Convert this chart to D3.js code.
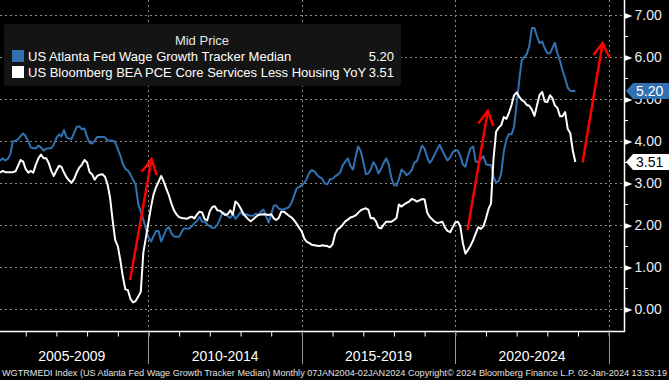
<!DOCTYPE html>
<html>
<head>
<meta charset="utf-8">
<script src="https://cdn.jsdelivr.net/npm/d3@7"></script>
<style>
  html, body { margin: 0; padding: 0; background: #000; }
  svg { display: block; font-family: "Liberation Sans", Arial, sans-serif; }
</style>
</head>
<body>
<div id="chart"></div>
<script>
// monthly data, first point = March 2005
var startYear = 2005, startMonth = 2;

var wageGrowth = [
  3.54, 3.60, 3.55, 3.58, 3.70, 4.00, 4.02, 4.05, 4.13, 4.19, 4.12, 4.00,
  3.86, 3.84, 3.84, 3.90, 3.86, 3.78, 3.83, 3.84, 3.84, 3.93, 4.08, 4.17,
  4.12, 4.27, 4.10, 4.07, 4.06, 4.21, 4.35, 4.36, 4.29, 4.31, 4.11, 3.97,
  3.95, 4.02, 4.11, 4.11, 4.11, 4.10, 4.03, 4.02, 4.02, 3.98, 3.82, 3.66,
  3.47, 3.35, 3.31, 3.21, 3.09, 2.97, 2.51, 2.33, 2.14, 1.92, 1.71, 1.62,
  1.74, 1.87, 1.87, 1.62, 1.76, 1.91, 1.96, 1.81, 1.74, 1.73, 1.73, 1.85,
  1.93, 1.93, 1.93, 1.98, 2.05, 2.11, 2.21, 2.09, 2.09, 2.03, 1.98, 1.94,
  1.95, 2.02, 2.15, 2.31, 2.28, 2.22, 2.18, 2.28, 2.16, 2.23, 2.32, 2.25,
  2.27, 2.25, 2.23, 2.23, 2.28, 2.26, 2.33, 2.38, 2.22, 2.07, 2.27, 2.47,
  2.48, 2.40, 2.38, 2.39, 2.41, 2.44, 2.55, 2.71, 2.89, 2.92, 2.96, 3.02,
  3.12, 3.26, 3.32, 3.29, 3.20, 3.15, 3.11, 3.00, 2.98, 3.10, 3.11, 3.17,
  3.21, 3.26, 3.43, 3.52, 3.60, 3.42, 3.33, 3.63, 3.88, 3.78, 3.52, 3.22,
  3.24, 3.34, 3.51, 3.41, 3.24, 3.35, 3.49, 3.60, 3.45, 3.14, 2.96, 2.95,
  3.10, 3.33, 3.28, 3.20, 3.24, 3.32, 3.50, 3.53, 3.72, 3.90, 3.83, 3.62,
  3.49, 3.57, 3.69, 3.82, 3.92, 3.78, 3.66, 3.55, 3.62, 3.74, 3.80, 3.78,
  3.66, 3.45, 3.40, 3.65, 3.84, 3.88, 3.52, 3.52, 3.58, 3.65, 3.46, 3.44,
  3.44, 3.16, 3.02, 3.06, 3.24, 3.76, 4.05, 4.18, 4.17, 4.35, 4.90, 5.46,
  5.92, 6.01, 6.08, 6.28, 6.70, 6.70, 6.50, 6.34, 6.38, 6.22, 6.10, 6.10,
  6.22, 6.35, 6.10, 5.92, 5.69, 5.50, 5.28, 5.21, 5.20, 5.20
];

var pceServices = [
  3.26, 3.30, 3.27, 3.27, 3.27, 3.27, 3.29, 3.42, 3.56, 3.52, 3.34, 3.26,
  3.30, 3.26, 3.45, 3.60, 3.69, 3.60, 3.60, 3.49, 3.30, 3.18, 3.31, 3.42,
  3.40, 3.26, 3.15, 3.07, 3.02, 3.11, 3.27, 3.38, 3.45, 3.56, 3.50, 3.27,
  3.22, 3.09, 3.18, 3.21, 3.22, 3.16, 2.98, 2.66, 2.11, 1.65, 1.51, 1.16,
  0.79, 0.48, 0.46, 0.25, 0.17, 0.20, 0.31, 0.42, 1.36, 1.71, 2.08, 2.45,
  2.73, 2.91, 3.04, 3.18, 3.05, 2.88, 2.72, 2.52, 2.36, 2.26, 2.20, 2.18,
  2.17, 2.16, 2.19, 2.21, 2.17, 2.26, 2.33, 2.31, 2.15, 2.12, 2.34, 2.44,
  2.46, 2.36, 2.35, 2.30, 2.25, 2.27, 2.36, 2.26, 2.57, 2.52, 2.41, 2.29,
  2.22, 2.15, 2.10, 2.15, 2.20, 2.25, 2.26, 2.27, 2.26, 2.25, 2.27, 2.17,
  2.13, 2.18, 2.33, 2.33, 2.28, 2.23, 2.19, 2.12, 2.04, 1.94, 1.85, 1.68,
  1.61, 1.58, 1.54, 1.53, 1.52, 1.51, 1.53, 1.52, 1.51, 1.48, 1.55, 1.80,
  1.91, 1.95, 2.02, 2.10, 2.14, 2.19, 2.21, 2.24, 2.30, 2.36, 2.39, 2.41,
  2.38, 2.17, 2.18, 2.10, 1.95, 1.93, 2.02, 2.09, 2.09, 2.09, 2.13, 2.18,
  2.50, 2.45, 2.50, 2.54, 2.57, 2.63, 2.61, 2.57, 2.60, 2.63, 2.62, 2.31,
  2.21, 2.15, 2.09, 2.06, 2.07, 2.09, 1.95, 1.87, 1.84, 1.95, 2.07, 2.09,
  1.98, 1.58, 1.33, 1.42, 1.52, 1.65, 1.81, 1.96, 1.92, 1.98, 2.17, 2.40,
  2.52, 3.60, 4.23, 4.33, 4.39, 4.58, 4.54, 4.68, 4.87, 5.10, 5.17, 5.06,
  4.99, 4.95, 4.87, 4.85, 4.76, 4.61, 4.87, 5.11, 5.18, 4.95, 4.94, 5.10,
  5.04, 4.86, 4.80, 4.60, 4.60, 4.70, 4.30, 4.20, 3.78, 3.51
];

var seriesNames = [
  "US Atlanta Fed Wage Growth Tracker Median",
  "US Bloomberg BEA PCE Core Services Less Housing YoY"
];
var lastValues = ["5.20", "3.51"];
var seriesColors = ["#3171b1", "#ffffff"];

var yTicks = [0, 1, 2, 3, 4, 5, 6, 7];
var yMinorTicks = [0.5, 1.5, 2.5, 3.5, 4.5, 5.5, 6.5];
var periodStarts = [2005, 2010, 2015, 2020, 2025];
var periodLabels = ["2005-2009", "2010-2014", "2015-2019", "2020-2024"];

// red annotation arrows, [decimal year, value]
var arrows = [
  { from: [2009.40, 0.70], tip: [2010.10, 3.58], wingA: [2009.78, 3.28], wingB: [2010.27, 3.20] },
  { from: [2020.40, 1.89], tip: [2021.06, 4.73], wingA: [2020.75, 4.43], wingB: [2021.24, 4.37] },
  { from: [2024.15, 3.50], tip: [2024.80, 6.34], wingA: [2024.50, 6.06], wingB: [2025.02, 6.00] }
];

var footerText = "WGTRMEDI Index (US Atlanta Fed Wage Growth Tracker Median)  Monthly 07JAN2004-02JAN2024  Copyright\u00a9 2024 Bloomberg Finance L.P.  02-Jan-2024 13:53:19";

// --- layout
var W = 669, H = 380;
var plotW = 624, plotH = 331;

function yearToDate(t) {
  var y = Math.floor(t);
  var start = new Date(y, 0, 1), end = new Date(y + 1, 0, 1);
  return new Date(start.getTime() + (t - y) * (end - start));
}

var dates = wageGrowth.map(function (d, i) { return new Date(startYear, startMonth + i, 1); });

var svg = d3.select("#chart").append("svg")
  .attr("width", W)
  .attr("height", H);

svg.append("rect").attr("width", W).attr("height", H).attr("fill", "#000");

var x = d3.scaleTime()
  .domain([yearToDate(2005.16), yearToDate(2025.498)])
  .range([0, plotW]);

var y = d3.scaleLinear()
  .domain([-0.512, 7.369])
  .range([plotH, 0]);

// gridlines
var grid = svg.append("g").attr("stroke", "#8a8a8a").attr("stroke-width", 1).attr("stroke-dasharray", "2,3");
grid.selectAll(".hg").data(yTicks).enter().append("line")
  .attr("x1", 0).attr("x2", plotW)
  .attr("y1", function (d) { return Math.round(y(d)) + 0.5; })
  .attr("y2", function (d) { return Math.round(y(d)) + 0.5; });
grid.selectAll(".vg").data(periodStarts.slice(1)).enter().append("line")
  .attr("y1", 0).attr("y2", plotH)
  .attr("x1", function (d) { return Math.round(x(new Date(d, 0, 1))) + 0.5; })
  .attr("x2", function (d) { return Math.round(x(new Date(d, 0, 1))) + 0.5; });

// legend box
var legend = svg.append("g");
legend.append("rect")
  .attr("x", 4).attr("y", 24).attr("width", 397).attr("height", 62)
  .attr("rx", 3).attr("fill", "#141414");
legend.append("text")
  .attr("x", 202).attr("y", 45)
  .attr("text-anchor", "middle")
  .attr("fill", "#e6e6e6")
  .style("font-size", "13px")
  .text("Mid Price");
seriesNames.forEach(function (name, i) {
  var ly = 56 + i * 16;
  legend.append("rect")
    .attr("x", 12).attr("y", ly - 6).attr("width", 12).attr("height", 12)
    .attr("fill", seriesColors[i]);
  legend.append("text")
    .attr("x", 28).attr("y", ly + 5)
    .attr("fill", "#ffffff")
    .style("font-size", "13px")
    .text(name);
  legend.append("text")
    .attr("x", 394).attr("y", ly + 5)
    .attr("text-anchor", "end")
    .attr("fill", "#ffffff")
    .style("font-size", "13px")
    .text(lastValues[i]);
});

// lines
var clip = svg.append("clipPath").attr("id", "plotclip")
  .append("rect").attr("width", plotW).attr("height", plotH);

var line = d3.line()
  .x(function (d) { return x(d[0]); })
  .y(function (d) { return y(d[1]); });

var plot = svg.append("g").attr("clip-path", "url(#plotclip)");
[wageGrowth, pceServices].forEach(function (series, i) {
  plot.append("path")
    .datum(series.map(function (v, j) { return [dates[j], v]; }))
    .attr("fill", "none")
    .attr("stroke", seriesColors[i])
    .attr("stroke-width", 2)
    .attr("stroke-linejoin", "round")
    .attr("d", line);
});

// red arrows
arrows.forEach(function (a) {
  var p = function (q) { return [x(yearToDate(q[0])), y(q[1])]; };
  plot.append("path")
    .datum([p(a.from), p(a.tip)])
    .attr("d", d3.line())
    .attr("stroke", "#ff0000").attr("stroke-width", 2.5).attr("fill", "none");
  plot.append("path")
    .datum([p(a.wingA), p(a.tip), p(a.wingB)])
    .attr("d", d3.line())
    .attr("stroke", "#ff0000").attr("stroke-width", 2.5).attr("fill", "none")
    .attr("stroke-linejoin", "miter");
});

// right axis
var yAxis = svg.append("g")
  .attr("transform", "translate(" + (plotW + 0.5) + ",0)")
  .call(d3.axisRight(y).tickValues(yTicks).tickSize(0).tickPadding(10).tickFormat(d3.format(".2f")));
yAxis.select(".domain").remove();
yAxis.selectAll("text").attr("fill", "#e8eef6").style("font-size", "14px")
  .style("font-family", "'Liberation Sans', Arial, sans-serif");
yAxis.selectAll(".tick").append("path")
  .attr("d", "M0,-3L8,0L0,3Z")
  .attr("fill", "#ffffff");
svg.append("g").selectAll("line").data(yMinorTicks).enter().append("line")
  .attr("x1", plotW).attr("x2", plotW + 4)
  .attr("y1", function (d) { return Math.round(y(d)) + 0.5; })
  .attr("y2", function (d) { return Math.round(y(d)) + 0.5; })
  .attr("stroke", "#ffffff");
svg.append("line")
  .attr("x1", plotW + 0.5).attr("x2", plotW + 0.5)
  .attr("y1", 0).attr("y2", plotH + 1)
  .attr("stroke", "#ffffff").attr("stroke-width", 1.5);

// bottom axis
var xAxis = svg.append("g")
  .attr("transform", "translate(0," + (plotH + 0.5) + ")")
  .call(d3.axisBottom(x).ticks(d3.timeYear.every(1)).tickSize(5).tickFormat(""));
xAxis.select(".domain").attr("stroke", "#ffffff").attr("stroke-width", 1.5)
  .attr("d", "M0,0H" + (plotW + 1));
xAxis.selectAll(".tick line").attr("stroke", "#ffffff");

svg.append("g").selectAll("line").data(periodStarts).enter().append("line")
  .attr("x1", function (d) { return Math.round(x(new Date(d, 0, 1))) + 0.5; })
  .attr("x2", function (d) { return Math.round(x(new Date(d, 0, 1))) + 0.5; })
  .attr("y1", plotH).attr("y2", 364)
  .attr("stroke", "#9a9a9a");

svg.append("g").selectAll("text").data(periodLabels).enter().append("text")
  .attr("x", function (d, i) {
    return (x(new Date(periodStarts[i], 0, 1)) + x(new Date(periodStarts[i + 1], 0, 1))) / 2;
  })
  .attr("y", 361)
  .attr("text-anchor", "middle")
  .attr("fill", "#ffffff")
  .style("font-size", "14px")
  .text(function (d) { return d; });

// last value tags
lastValues.forEach(function (v, i) {
  var ty = y(+v);
  var g = svg.append("g").attr("transform", "translate(0," + ty + ")");
  g.append("path")
    .attr("d", "M626,0L633,-8H669V8H633Z")
    .attr("fill", i === 0 ? seriesColors[0] : "#ffffff");
  g.append("text")
    .attr("x", 636).attr("y", 5)
    .attr("fill", i === 0 ? "#ffffff" : "#000000")
    .style("font-size", "14px")
    .text(v);
});

// footer
svg.append("text")
  .attr("x", 2).attr("y", 376)
  .attr("fill", "#e0e0e0")
  .style("font-size", "9px")
  .attr("textLength", 665)
  .attr("lengthAdjust", "spacingAndGlyphs")
  .text(footerText);
</script>
</body>
</html>
